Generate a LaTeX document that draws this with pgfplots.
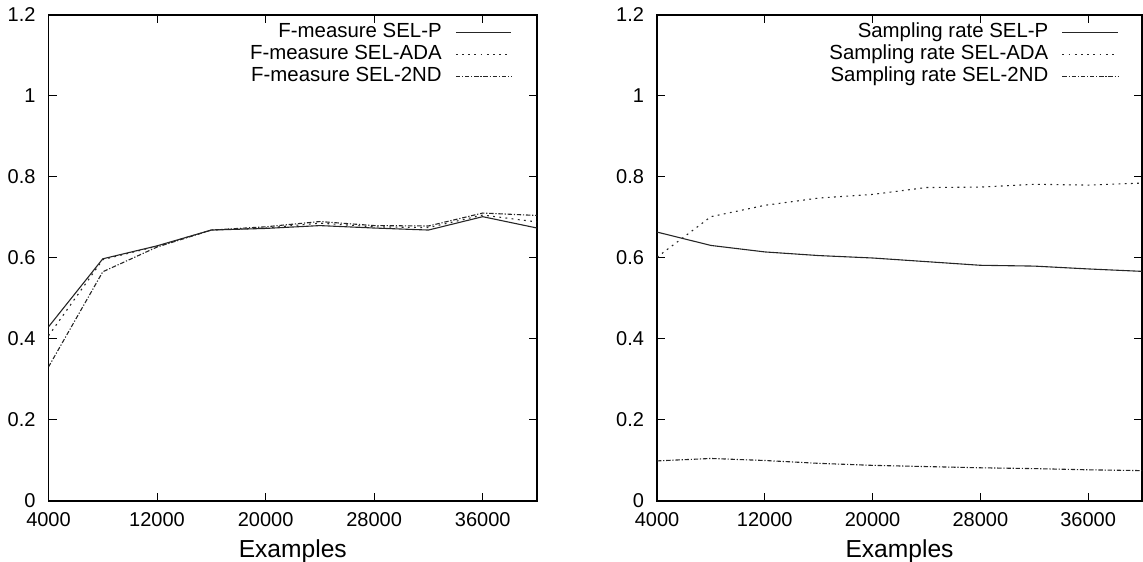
\documentclass[border=0pt]{standalone}
\usepackage{fontspec}
\setmainfont{Liberation Sans}
\usepackage{pgfplots}
\pgfplotsset{compat=1.18}
\pgfplotsset{
  gp/.style={
    scale only axis, height=243pt,
    xmin=4000, xmax=40000, ymin=0, ymax=1.2,
    xtick={4000,12000,20000,28000,36000},
    ytick={0,0.2,0.4,0.6,0.8,1,1.2},
    tick align=inside, major tick length=4pt,
    axis line style={line width=0.6pt},
    every tick/.style={black, line width=0.5pt},
    scaled ticks=false,
    /pgf/number format/1000 sep={},
    /pgf/number format/assume math mode=true,
    ticklabel style={font=\fontsize{10}{12}\selectfont},
    yticklabel style={xshift=-3pt},
    xticklabel style={yshift=-2.4pt},
    xlabel={Examples},
    xlabel style={at={(axis description cs:0.5,0)}, anchor=base, yshift=-28.3pt, font=\fontsize{12.3}{14}\selectfont},
    legend plot pos=right,
    legend cell align=right,
    legend style={draw=none, fill=none, anchor=north east, inner sep=0pt, outer sep=0pt,
      row sep=0pt, column sep=6.3pt,
      nodes={text height=7.5pt, text depth=2.5pt, inner sep=0.5pt, font=\fontsize{10.2}{12}\selectfont}},
  },
  s1/.style={black!85, line width=0.55pt},
  s2/.style={black!85, line width=0.55pt, dash pattern=on 0.9pt off 2.2pt},
  s3/.style={black!85, line width=0.55pt, dash pattern=on 2.2pt off 0.9pt on 0.6pt off 0.9pt},
  legend image code/.code={\draw[#1] (0pt,0pt) -- (27.8pt,0pt);},
}
\begin{document}
\begin{tikzpicture}
\useasboundingbox (0,0) rectangle (571.5pt,280.5pt);
\begin{axis}[gp, at={(24.25pt,30pt)}, anchor=south west, width=244.25pt,
  legend style={at={(axis description cs:0.9488,0.9874)}}]
\addplot[s1] coordinates {(4000,0.430) (8000,0.598) (12000,0.630) (16000,0.669) (20000,0.673) (24000,0.680) (28000,0.674) (32000,0.669) (36000,0.702) (40000,0.674)};
\addlegendentry{F-measure SEL-P}
\addplot[s2] coordinates {(4000,0.408) (8000,0.596) (12000,0.629) (16000,0.669) (20000,0.674) (24000,0.686) (28000,0.677) (32000,0.675) (36000,0.706) (40000,0.689)};
\addlegendentry{F-measure SEL-ADA}
\addplot[s3] coordinates {(4000,0.331) (8000,0.566) (12000,0.627) (16000,0.669) (20000,0.677) (24000,0.690) (28000,0.680) (32000,0.679) (36000,0.711) (40000,0.705)};
\addlegendentry{F-measure SEL-2ND}
\end{axis}
\begin{axis}[gp, at={(328.5pt,30pt)}, anchor=south west, width=242.5pt,
  legend style={at={(axis description cs:0.9517,0.9874)}}]
\addplot[s1] coordinates {(4000,0.664) (8000,0.631) (12000,0.615) (16000,0.606) (20000,0.600) (24000,0.591) (28000,0.582) (32000,0.580) (36000,0.573) (40000,0.567)};
\addlegendentry{Sampling rate SEL-P}
\addplot[s2] coordinates {(4000,0.602) (8000,0.702) (12000,0.730) (16000,0.748) (20000,0.757) (24000,0.774) (28000,0.775) (32000,0.782) (36000,0.780) (40000,0.785)};
\addlegendentry{Sampling rate SEL-ADA}
\addplot[s3] coordinates {(4000,0.099) (8000,0.105) (12000,0.100) (16000,0.093) (20000,0.088) (24000,0.085) (28000,0.082) (32000,0.080) (36000,0.077) (40000,0.075)};
\addlegendentry{Sampling rate SEL-2ND}
\end{axis}
\end{tikzpicture}
\end{document}
